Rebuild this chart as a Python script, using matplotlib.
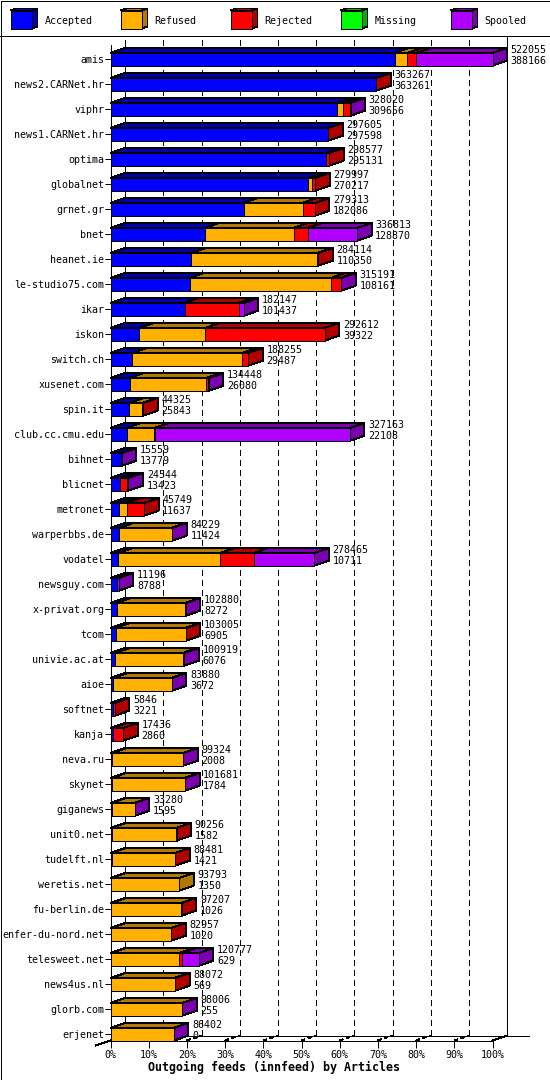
import numpy as np
import matplotlib
matplotlib.use('Agg')
import matplotlib.pyplot as plt
from matplotlib.collections import PolyCollection
from matplotlib.patches import Polygon

# Feed names, top to bottom
feeds = ['amis', 'news2.CARNet.hr', 'viphr', 'news1.CARNet.hr', 'optima', 'globalnet', 'grnet.gr', 'bnet',
         'heanet.ie', 'le-studio75.com', 'ikar', 'iskon', 'switch.ch', 'xusenet.com', 'spin.it',
         'club.cc.cmu.edu', 'bihnet', 'blicnet', 'metronet', 'warperbbs.de', 'vodatel', 'newsguy.com',
         'x-privat.org', 'tcom', 'univie.ac.at', 'aioe', 'softnet', 'kanja', 'neva.ru', 'skynet', 'giganews',
         'unit0.net', 'tudelft.nl', 'weretis.net', 'fu-berlin.de', 'enfer-du-nord.net', 'telesweet.net',
         'news4us.nl', 'glorb.com', 'erjenet']

accepted = [388166, 363261, 309656, 297598, 295131, 270217, 182086, 128870, 110350, 108161, 101437, 39322,
            29487, 26080, 25843, 22108, 13779, 13423, 11637, 11424, 10711, 8788, 8272, 6905, 6076, 3672, 3221,
            2860, 2008, 1784, 1595, 1582, 1421, 1350, 1026, 1020, 629, 569, 255, 0]
refused = [17700, 0, 7900, 0, 0, 5400, 80500, 121500, 172400, 192900, 0, 89700, 150150, 104700, 17750, 37800,
           0, 0, 10500, 72300, 138800, 0, 94100, 95700, 92800, 79900, 0, 0, 97000, 99500, 31300, 88300, 86700,
           92443, 95800, 81600, 93400, 87100, 97400, 86100]
rejected = [12300, 6, 9600, 7, 3446, 4380, 16727, 19100, 1364, 13700, 73700, 163590, 8618, 2400, 732, 500, 0,
            9500, 23612, 0, 46400, 0, 0, 400, 0, 0, 2625, 14576, 0, 0, 0, 374, 360, 0, 381, 337, 3500, 403, 0, 0]
missing = [0] * 40
spooled = [103889, 0, 864, 0, 0, 0, 0, 67343, 0, 430, 7010, 0, 0, 1268, 0, 266755, 1780, 1621, 0, 505, 82554,
           2408, 508, 0, 2043, 308, 0, 0, 316, 397, 385, 0, 0, 0, 0, 0, 23248, 0, 351, 302]

series_names = ['Accepted', 'Refused', 'Rejected', 'Missing', 'Spooled']
face_colors = ['#0000ff', '#ffb000', '#ff0000', '#00ff00', '#b000ff']
dark_colors = ['#0000b0', '#b07b00', '#b00000', '#00b000', '#7b00b0']
pct_labels = ['0%', '10%', '20%', '30%', '40%', '50%', '60%', '70%', '80%', '90%', '100%']

plt.rcParams['font.family'] = ['DejaVu Sans Mono']
plt.rcParams['font.size'] = 7.2
plt.rcParams['lines.antialiased'] = False
plt.rcParams['patch.antialiased'] = False
plt.rcParams['lines.scale_dashes'] = False

W, H = 550, 1080
LW = 0.72
fig = plt.figure(figsize=(W / 100, H / 100), dpi=100, facecolor='white')

# Frame and legend live in a plain pixel axes
bg = fig.add_axes([0, 0, 1, 1])
bg.set_xlim(0, W)
bg.set_ylim(H, 0)
bg.axis('off')
bg.add_patch(plt.Rectangle((0.5, 0.5), W - 1, H - 1, fill=False, ec='black', lw=LW))
bg.plot([0, W], [35.5, 35.5], color='black', lw=LW)

for i, name in enumerate(series_names):
    x0 = 10.5 + 110 * i
    bg.add_patch(Polygon([(x0, 10.5), (x0 + 6, 8.5), (x0 + 27, 8.5), (x0 + 21, 10.5)],
                         fc=dark_colors[i], ec='black', lw=LW))
    bg.add_patch(Polygon([(x0 + 21, 10.5), (x0 + 27, 8.5), (x0 + 27, 26.5), (x0 + 21, 28.5)],
                         fc=dark_colors[i], ec='black', lw=LW))
    bg.add_patch(plt.Rectangle((x0, 10.5), 21, 18, fc=face_colors[i], ec='black', lw=LW))
    bg.text(x0 + 34, 20.5, name, va='center', ha='left')

# Main axes: x is articles, y is the row number
stacks = np.array([accepted, refused, rejected, missing, spooled])
totals = stacks.sum(axis=0)
scale_max = totals.max()
rows = np.arange(len(feeds))

x_left, x_right, y_top, y_bot = 110.5, 492.5, 45.0, 1040.5
ax = fig.add_axes([x_left / W, 1 - y_bot / H, (x_right - x_left) / W, (y_bot - y_top) / H])
ax.set_xlim(0, scale_max)
ax.set_ylim((y_bot - 59.3) / 25, (y_top - 59.3) / 25)
ax.patch.set_visible(False)

dx = 14.6 / (x_right - x_left) * scale_max
dy = 5 / 25
bar_h = 12.7 / 25
floor = ax.get_ylim()[0]
ceil = ax.get_ylim()[1]

# Walls and floor
grid = np.arange(0, 11) / 10 * scale_max
for g in grid[1:-1]:
    ax.plot([g + dx, g + dx], [ceil - dy, floor - dy], color='black', lw=LW, ls=(0, (3.6, 3.2)), zorder=1, clip_on=False)
    ax.plot([g, g + dx], [floor, floor - dy], color='black', lw=LW, ls=(0, (2.2, 2.2)), zorder=1, clip_on=False)
ax.plot([dx, dx], [ceil - dy, floor - dy], color='black', lw=LW, zorder=1, clip_on=False)
ax.plot([scale_max + dx] * 2, [ceil - dy - 0.16, floor - dy], color='black', lw=LW, zorder=1, clip_on=False)
ax.plot([dx, 1.096 * scale_max], [floor - dy, floor - dy], color='black', lw=LW, zorder=1, clip_on=False)
ax.plot([scale_max, scale_max + dx], [floor, floor - dy], color='black', lw=LW, zorder=1, clip_on=False)
ax.plot([0, -dx], [floor, floor + dy], color='black', lw=LW, zorder=1, clip_on=False)

# Bars, one series at a time
lefts = np.zeros(len(feeds))
for s in range(len(series_names)):
    vals = stacks[s]
    keep = vals > 0
    if keep.any():
        ax.barh(rows[keep], vals[keep], left=lefts[keep], height=bar_h, color=face_colors[s],
                edgecolor='black', linewidth=LW, zorder=3, clip_on=False)
        tops = []
        for r, l, v in zip(rows[keep], lefts[keep], vals[keep]):
            t = r - bar_h / 2
            tops.append([(l, t), (l + v, t), (l + v + dx, t - dy), (l + dx, t - dy)])
        ax.add_collection(PolyCollection(tops, facecolors=dark_colors[s], edgecolors='black', linewidths=LW,
                                         antialiaseds=False, zorder=2, clip_on=False))
    lefts += vals

# Side face takes the colour of the last non empty segment
for r in rows:
    last = np.nonzero(stacks[:, r])[0][-1]
    end = totals[r]
    t, b = r - bar_h / 2, r + bar_h / 2
    ax.add_patch(Polygon([(end, t), (end + dx, t - dy), (end + dx, b - dy), (end, b)], fc=dark_colors[last],
                         ec='black', lw=LW, zorder=2.5, clip_on=False))
    tx = end + 18.3 / (x_right - x_left) * scale_max
    ax.text(tx, r - 9.4 / 25, str(totals[r]), ha='left', va='center', zorder=5, clip_on=False)
    ax.text(tx, r + 1.8 / 25, str(accepted[r]), ha='left', va='center', zorder=5, clip_on=False)

ax.set_yticks(rows)
ax.set_yticklabels(feeds)
ax.set_xticks(grid)
ax.set_xticklabels(pct_labels)
ax.tick_params(axis='y', length=4, width=LW, pad=0.5)
ax.tick_params(axis='x', length=5, width=LW, pad=2)
for side in ['top', 'right']:
    ax.spines[side].set_visible(False)
for side in ['left', 'bottom']:
    ax.spines[side].set_linewidth(LW)
    ax.spines[side].set_zorder(1.5)

bg.text(274.5, 1067, 'Outgoing feeds (innfeed) by Articles', ha='center', va='center', fontweight='bold',
        fontsize=8.4)

fig.savefig('out.png', dpi=100)
